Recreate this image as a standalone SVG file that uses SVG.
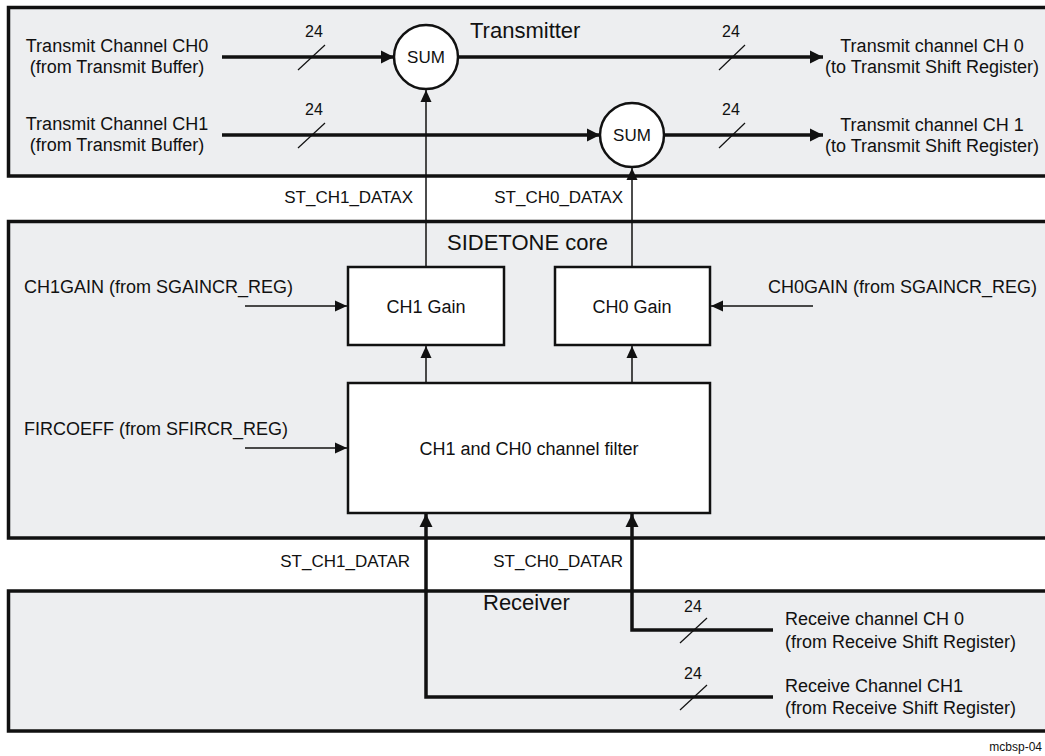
<svg xmlns="http://www.w3.org/2000/svg" width="1045" height="756" viewBox="0 0 1045 756">
<style>
text{font-family:"Liberation Sans",Arial,sans-serif;fill:#111}
.t18{font-size:18px}
.t17{font-size:17px}
.t15{font-size:16px}
.t22{font-size:22px}
.mid{text-anchor:middle}
.end{text-anchor:end}
.region{fill:#edeef0;stroke:#111;stroke-width:3.5}
.blk{fill:#fff;stroke:#111;stroke-width:2.5}
.thick{fill:none;stroke:#111;stroke-width:3.5}
.thin{fill:none;stroke:#111;stroke-width:1.5}
.slash{fill:none;stroke:#111;stroke-width:1.2}
</style>
<defs>
<marker id="ah" markerUnits="userSpaceOnUse" markerWidth="14" markerHeight="14" refX="13" refY="7" orient="auto">
<path d="M0,0.5 L13,7 L0,13.5 z" fill="#111"/>
</marker>
<marker id="ahs" markerUnits="userSpaceOnUse" markerWidth="13" markerHeight="13" refX="12" refY="6" orient="auto">
<path d="M0,0.5 L12,6 L0,11.5 z" fill="#111"/>
</marker>
</defs>
<rect width="1045" height="756" fill="#fff"/>

<g id="transmitter">
<rect class="region" x="8.5" y="7.5" width="1050" height="168.5"/>
<text class="t22" x="470" y="38">Transmitter</text>
</g>
<g id="sidetone">
<rect class="region" x="8.5" y="221.5" width="1050" height="316.5"/>
<text class="t22" x="447" y="250">SIDETONE core</text>
</g>
<g id="receiver">
<rect class="region" x="8.5" y="591" width="1050" height="140"/>
<text class="t22" x="483" y="610">Receiver</text>
</g>

<g id="connectors">
<line class="thick" x1="222" y1="57" x2="394" y2="57" marker-end="url(#ah)"/>
<line class="thick" x1="222" y1="135" x2="600" y2="135" marker-end="url(#ah)"/>
<line class="thick" x1="458" y1="57" x2="823" y2="57" marker-end="url(#ah)"/>
<line class="thick" x1="664" y1="135" x2="823" y2="135" marker-end="url(#ah)"/>
<line class="thin" x1="426" y1="267" x2="426" y2="90" marker-end="url(#ahs)"/>
<line class="thin" x1="632" y1="267" x2="632" y2="168" marker-end="url(#ahs)"/>
<line class="thin" x1="426" y1="383" x2="426" y2="346" marker-end="url(#ahs)"/>
<line class="thin" x1="632" y1="383" x2="632" y2="346" marker-end="url(#ahs)"/>
<line class="thin" x1="245" y1="306" x2="347" y2="306" marker-end="url(#ahs)"/>
<line class="thin" x1="245" y1="448" x2="347" y2="448" marker-end="url(#ahs)"/>
<line class="thin" x1="813" y1="306" x2="711" y2="306" marker-end="url(#ahs)"/>
<path class="thick" d="M773,630 H632 V514" marker-end="url(#ah)"/>
<path class="thick" d="M773,697 H426 V514" marker-end="url(#ah)"/>
<line class="slash" x1="298" y1="70" x2="325" y2="45"/>
<line class="slash" x1="298" y1="148" x2="325" y2="123"/>
<line class="slash" x1="719" y1="70" x2="745" y2="45"/>
<line class="slash" x1="719" y1="148" x2="745" y2="123"/>
<line class="slash" x1="680" y1="643" x2="707" y2="618"/>
<line class="slash" x1="680" y1="710" x2="707" y2="685"/>
<text class="t15 mid" x="314" y="37">24</text>
<text class="t15 mid" x="314" y="115">24</text>
<text class="t15 mid" x="731" y="37">24</text>
<text class="t15 mid" x="731" y="115">24</text>
<text class="t15 mid" x="693" y="612">24</text>
<text class="t15 mid" x="693" y="679">24</text>
<text class="t17 end" x="413" y="203">ST_CH1_DATAX</text>
<text class="t17 end" x="623" y="203">ST_CH0_DATAX</text>
<text class="t17 end" x="410" y="567">ST_CH1_DATAR</text>
<text class="t17 end" x="623" y="567">ST_CH0_DATAR</text>
</g>

<g id="sum1">
<circle class="blk" cx="426" cy="57" r="32"/>
<text class="t17 mid" x="426" y="63">SUM</text>
</g>
<g id="sum2">
<circle class="blk" cx="632" cy="135" r="32"/>
<text class="t17 mid" x="632" y="141">SUM</text>
</g>
<g id="ch1gain">
<rect class="blk" x="348" y="267" width="156" height="78"/>
<text class="t18 mid" x="426" y="313">CH1 Gain</text>
</g>
<g id="ch0gain">
<rect class="blk" x="555" y="267" width="155" height="78"/>
<text class="t18 mid" x="632" y="313">CH0 Gain</text>
</g>
<g id="filter">
<rect class="blk" x="348" y="383" width="362" height="130"/>
<text class="t18 mid" x="529" y="455">CH1 and CH0 channel filter</text>
</g>

<g id="tx-in0">
<text class="t18 mid" x="117" y="52">Transmit Channel CH0</text>
<text class="t18 mid" x="117" y="73">(from Transmit Buffer)</text>
</g>
<g id="tx-in1">
<text class="t18 mid" x="117" y="130">Transmit Channel CH1</text>
<text class="t18 mid" x="117" y="151">(from Transmit Buffer)</text>
</g>
<g id="tx-out0">
<text class="t18 mid" x="932" y="52">Transmit channel CH 0</text>
<text class="t18 mid" x="932" y="73">(to Transmit Shift Register)</text>
</g>
<g id="tx-out1">
<text class="t18 mid" x="932" y="131">Transmit channel CH 1</text>
<text class="t18 mid" x="932" y="152">(to Transmit Shift Register)</text>
</g>
<g id="ch1gain-in">
<text class="t18" x="24" y="293">CH1GAIN (from SGAINCR_REG)</text>
</g>
<g id="fircoeff-in">
<text class="t18" x="24" y="435">FIRCOEFF (from SFIRCR_REG)</text>
</g>
<g id="ch0gain-in">
<text class="t18" x="768" y="293">CH0GAIN (from SGAINCR_REG)</text>
</g>
<g id="rx-in0">
<text class="t18" x="785" y="625">Receive channel CH 0</text>
<text class="t18" x="785" y="648">(from Receive Shift Register)</text>
</g>
<g id="rx-in1">
<text class="t18" x="785" y="692">Receive Channel CH1</text>
<text class="t18" x="785" y="714">(from Receive Shift Register)</text>
</g>
<text x="1042" y="751" style="font-size:12px;text-anchor:end">mcbsp-04</text>
</svg>
